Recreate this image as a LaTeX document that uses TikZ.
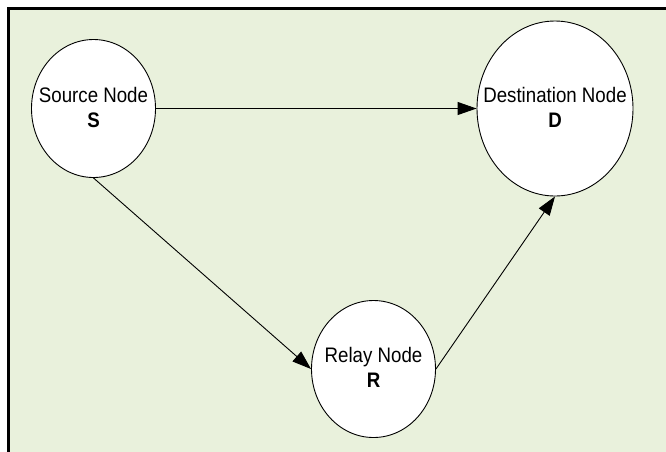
\documentclass[tikz,border=0pt]{standalone}
\usepackage{fontspec}
\setmainfont[FakeStretch=0.89]{Liberation Sans}
\usetikzlibrary{shapes.geometric,arrows.meta}
\definecolor{bgreen}{RGB}{233,241,220}
\tikzset{
  netnode/.style={ellipse,draw=black,line width=0.9pt,fill=white,inner sep=0pt},
  nettext/.style={align=center,inner sep=0pt,yshift=1.3pt,font=\fontsize{21}{25}\selectfont},
  link/.style={draw=black,line width=0.9pt,-{Triangle[length=19pt,width=13pt]}}
}
\begin{document}
\begin{tikzpicture}[x=1pt,y=-1pt]
\useasboundingbox (0,0) rectangle (666,451);
\begin{scope}
\clip (0,0) rectangle (666,451);
\fill[bgreen] (8.5,8.5) rectangle (680,470);
\draw[line width=2.6pt,line cap=rect] (8.5,470) -- (8.5,8.5) -- (680,8.5);
\end{scope}
\node[netnode,minimum width=124pt,minimum height=138pt] (S) at (93.5,108.5) {};
\node[nettext] (St) at (S.center) {Source Node\\\textbf{S}};
\node[netnode,minimum width=156pt,minimum height=175pt] (D) at (555,108.5) {};
\node[nettext] (Dt) at (D.center) {Destination Node\\\textbf{D}};
\node[netnode,minimum width=124pt,minimum height=137pt] (R) at (373.5,369) {};
\node[nettext] (Rt) at (R.center) {Relay Node\\\textbf{R}};
\draw[link] (S.east) -- (D.west);
\draw[link] (S.south) -- (R.west);
\draw[link] (R.east) -- (D.south);
\end{tikzpicture}
\end{document}
